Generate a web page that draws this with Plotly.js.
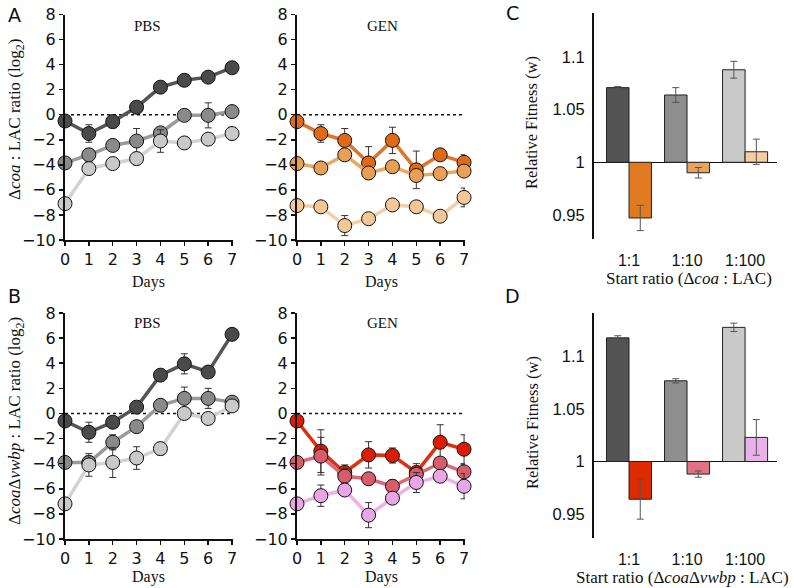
<!DOCTYPE html>
<html>
<head>
<meta charset="utf-8">
<script src="https://cdn.plot.ly/plotly-3.0.1.min.js"></script>
<style>
  body { margin: 0; background: #fff; }
  #fig { width: 794px; height: 588px; }
</style>
</head>
<body>
<div id="fig"></div>
<script>
// data
var days = [0, 1, 2, 3, 4, 5, 6, 7];
var ratioLabels = ['1:1', '1:10', '1:100'];

// A: dcoa : LAC, PBS
var aPbsDark = [-0.5, -1.5, -0.55, 0.6, 2.2, 2.75, 3.0, 3.75];
var aPbsDarkErr = [0, 0.7, 0.5, 0.1, 0.15, 0.1, 0.1, 0.15];
var aPbsMid = [-3.85, -3.2, -2.45, -2.1, -1.45, -0.05, -0.05, 0.25];
var aPbsMidErr = [0, 0.5, 0.2, 1.0, 0.2, 0.1, 1.0, 0.4];
var aPbsLight = [-7.1, -4.3, -3.9, -3.5, -2.1, -2.25, -1.95, -1.5];
var aPbsLightErr = [0, 0.3, 0.2, 0.5, 0.9, 0.1, 0.1, 0.5];
// A: GEN
var aGenDark = [-0.55, -1.5, -2.05, -3.85, -2.05, -4.4, -3.2, -3.8];
var aGenDarkErr = [0, 0.7, 0.95, 1.3, 1.05, 1.5, 0.2, 0.6];
var aGenMid = [-3.9, -4.25, -3.2, -4.65, -4.15, -4.85, -4.7, -4.5];
var aGenMidErr = [0, 0.3, 0.3, 0.3, 0.3, 0.4, 0.2, 0.2];
var aGenLight = [-7.25, -7.35, -8.85, -8.3, -7.2, -7.35, -8.1, -6.6];
var aGenLightErr = [0, 0.1, 0.8, 0.4, 0.2, 0.3, 0.1, 0.75];

// B: dcoa dvwbp : LAC, PBS
var bPbsDark = [-0.6, -1.5, -0.7, 0.5, 3.05, 3.95, 3.3, 6.3];
var bPbsDarkErr = [0, 0.8, 0.2, 0.1, 0.3, 0.8, 0.4, 0.1];
var bPbsMid = [-3.9, -3.9, -2.3, -1.05, 0.65, 1.2, 1.2, 0.9];
var bPbsMidErr = [0, 0.5, 0.6, 0.2, 0.2, 0.9, 0.8, 0.1];
var bPbsLight = [-7.2, -4.1, -3.9, -3.55, -2.8, 0, -0.4, 0.6];
var bPbsLightErr = [0, 0.9, 1.2, 0.9, 0.5, 0, 0.1, 0.1];
// B: GEN
var bGenDark = [-0.6, -3.0, -4.7, -3.3, -3.35, -4.7, -2.3, -2.85];
var bGenDarkErr = [0, 1.7, 0.6, 1.05, 0.6, 0.7, 1.4, 1.15];
var bGenMid = [-3.9, -3.4, -5.0, -5.2, -5.8, -4.85, -3.95, -4.65];
var bGenMidErr = [0, 1.5, 0.6, 0.4, 0.5, 0.5, 0.3, 0.6];
var bGenLight = [-7.2, -6.55, -6.1, -8.1, -6.75, -5.5, -5.0, -5.8];
var bGenLightErr = [0, 0.85, 0.2, 1.0, 0.3, 0.8, 0.2, 1.0];

// C / D: relative fitness
var cPbs = [1.071, 1.064, 1.088];
var cPbsErr = [0.001, 0.007, 0.008];
var cGen = [0.947, 0.990, 1.010];
var cGenErr = [0.012, 0.005, 0.012];
var dPbs = [1.118, 1.077, 1.128];
var dPbsErr = [0.002, 0.002, 0.004];
var dGen = [0.964, 0.988, 1.023];
var dGenErr = [0.019, 0.003, 0.017];

var W = 794, H = 588;
function px(x) { return x / W; }
function py(y) { return 1 - y / H; }

var greys = {dark: ['#4a4a4a', '#555555'], mid: ['#8a8a8a', '#9a9a9a'], light: ['#c9c9c9', '#d2d2d2']};
var oranges = {dark: ['#e06a16', '#e07426'], mid: ['#e9a055', '#eaa862'], light: ['#f3c796', '#f4cfa4']};
var reds = {dark: ['#dd1c00', '#dd3010'], mid: ['#d85c6c', '#dc6878'], light: ['#e8a6e4', '#ecb2e8']};

function series(y, err, col, xa, ya) {
  return {
    x: days, y: y, xaxis: xa, yaxis: ya,
    type: 'scatter', mode: 'lines+markers', cliponaxis: false,
    line: {color: col[1], width: 3.5},
    marker: {color: col[0], size: 14, line: {color: '#111', width: 1}},
    error_y: {type: 'data', array: err, visible: true, color: '#333', thickness: 1, width: 3.5},
    hoverinfo: 'skip'
  };
}

function bars(vals, errs, colors, xa, ya) {
  return {
    x: ratioLabels, y: vals.map(function (v) { return v - 1; }), xaxis: xa, yaxis: ya,
    type: 'bar', cliponaxis: false,
    marker: {color: colors, line: {color: '#222', width: 1}},
    error_y: {type: 'data', array: errs, visible: true, color: '#555', thickness: 1, width: 3.5},
    hoverinfo: 'skip'
  };
}

var data = [
  series(aPbsDark, aPbsDarkErr, greys.dark, 'x', 'y'),
  series(aPbsMid, aPbsMidErr, greys.mid, 'x', 'y'),
  series(aPbsLight, aPbsLightErr, greys.light, 'x', 'y'),
  series(aGenDark, aGenDarkErr, oranges.dark, 'x2', 'y2'),
  series(aGenMid, aGenMidErr, oranges.mid, 'x2', 'y2'),
  series(aGenLight, aGenLightErr, oranges.light, 'x2', 'y2'),
  series(bPbsDark, bPbsDarkErr, greys.dark, 'x3', 'y3'),
  series(bPbsMid, bPbsMidErr, greys.mid, 'x3', 'y3'),
  series(bPbsLight, bPbsLightErr, greys.light, 'x3', 'y3'),
  series(bGenDark, bGenDarkErr, reds.dark, 'x4', 'y4'),
  series(bGenMid, bGenMidErr, reds.mid, 'x4', 'y4'),
  series(bGenLight, bGenLightErr, reds.light, 'x4', 'y4'),
  bars(cPbs, cPbsErr, ['#535353', '#8e8e8e', '#c9c9c9'], 'x5', 'y5'),
  bars(cGen, cGenErr, ['#e07a1e', '#e9a35c', '#f5cda0'], 'x5', 'y5'),
  bars(dPbs, dPbsErr, ['#535353', '#8e8e8e', '#c9c9c9'], 'x6', 'y6'),
  bars(dGen, dGenErr, ['#dd2a00', '#e07282', '#e8b2e8'], 'x6', 'y6')
];

var sans = 'DejaVu Sans, Arial, sans-serif';
var serif = 'Liberation Serif, Times New Roman, serif';
var tickFont = {family: sans, size: 16, color: '#111'};

function dayAxis(x0, x1, anchor) {
  return {
    domain: [px(x0), px(x1)], range: [0, 7.04], anchor: anchor,
    tickvals: days, ticks: 'outside', ticklen: 4, tickwidth: 1.5, tickcolor: '#111',
    showline: true, linecolor: '#111', linewidth: 2, showgrid: false, zeroline: false,
    tickfont: tickFont, fixedrange: true
  };
}
function ratioAxis(y0, y1, anchor) {
  return {
    domain: [py(y1), py(y0)], range: [-10, 8], anchor: anchor, dtick: 2,
    ticks: 'outside', ticklen: 4, tickwidth: 1.5, tickcolor: '#111',
    showline: true, linecolor: '#111', linewidth: 2, showgrid: false, zeroline: false,
    tickfont: tickFont, fixedrange: true
  };
}
function catAxis(anchor) {
  return {
    domain: [px(594), px(777)], range: [-0.603, 2.55], anchor: anchor,
    showline: false, ticks: '', showgrid: false, zeroline: false,
    ticklabelstandoff: 10, tickfont: {family: 'Liberation Sans, Arial, sans-serif', size: 16, color: '#111'},
    fixedrange: true
  };
}
function fitAxis(y0, y1, anchor) {
  return {
    domain: [py(y1), py(y0)], range: [-0.073, 0.142], anchor: anchor,
    tickvals: [-0.05, 0, 0.05, 0.1], ticktext: ['0.95', '1', '1.05', '1.1'],
    ticks: '', showline: true, linecolor: '#111', linewidth: 2, showgrid: false,
    zeroline: true, zerolinecolor: '#111', zerolinewidth: 1.5, ticklabelstandoff: 4,
    tickfont: {family: 'Liberation Sans, Arial, sans-serif', size: 16.5, color: '#111'},
    fixedrange: true
  };
}

function label(text, x, y, size, family, angle) {
  return {
    text: text, xref: 'paper', yref: 'paper', x: px(x), y: py(y),
    xanchor: 'center', yanchor: 'middle', showarrow: false, textangle: angle || 0,
    font: {family: family, size: size, color: '#111'}
  };
}

var annotations = [
  label('A', 14, 15, 19, sans), label('B', 14, 296, 19, sans),
  label('C', 512, 13, 19, sans), label('D', 512, 296, 19, sans),
  label('PBS', 147, 26, 15, serif), label('GEN', 382, 26, 15, serif),
  label('PBS', 147, 323, 15, serif), label('GEN', 382, 323, 15, serif),
  label('Days', 148, 282, 16, serif), label('Days', 381, 282, 16, serif),
  label('Days', 148, 577, 16, serif), label('Days', 381, 577, 16, serif),
  label('Δ<i>coa</i> : LAC ratio (log<sub>2</sub>)', 16, 120, 17, serif, -90),
  label('Δ<i>coa</i>Δ<i>vwbp</i> : LAC ratio (log<sub>2</sub>)', 16, 421, 17, serif, -90),
  label('Relative Fitness (w)', 532, 123, 16.5, serif, -90),
  label('Relative Fitness (w)', 532, 423, 16.5, serif, -90),
  label('Start ratio (Δ<i>coa</i> : LAC)', 689, 278, 17, serif),
  label('Start ratio (Δ<i>coa</i>Δ<i>vwbp</i> : LAC)', 682, 577, 17, serif)
];

var shapes = [['x', 'y'], ['x2', 'y2'], ['x3', 'y3'], ['x4', 'y4']].map(function (a) {
  return {type: 'line', xref: a[0], yref: a[1], x0: 0, x1: 7, y0: 0, y1: 0,
          line: {color: '#111', width: 1.5, dash: 'dot'}, layer: 'below'};
});

var layout = {
  width: W, height: H, margin: {l: 0, r: 0, t: 0, b: 0},
  paper_bgcolor: '#fff', plot_bgcolor: 'rgba(0,0,0,0)',
  showlegend: false, barmode: 'group', bargap: 0.224, bargroupgap: 0,
  xaxis: dayAxis(65, 233, 'y'), yaxis: ratioAxis(14.5, 240, 'x'),
  xaxis2: dayAxis(297, 465, 'y2'), yaxis2: ratioAxis(14.5, 240, 'x2'),
  xaxis3: dayAxis(65, 233, 'y3'), yaxis3: ratioAxis(313, 539, 'x3'),
  xaxis4: dayAxis(297, 465, 'y4'), yaxis4: ratioAxis(313, 539, 'x4'),
  xaxis5: catAxis('y5'), yaxis5: fitAxis(13, 239, 'x5'),
  xaxis6: catAxis('y6'), yaxis6: fitAxis(312.7, 538, 'x6'),
  annotations: annotations, shapes: shapes
};

Plotly.newPlot('fig', data, layout, {staticPlot: true});
</script>
</body>
</html>
